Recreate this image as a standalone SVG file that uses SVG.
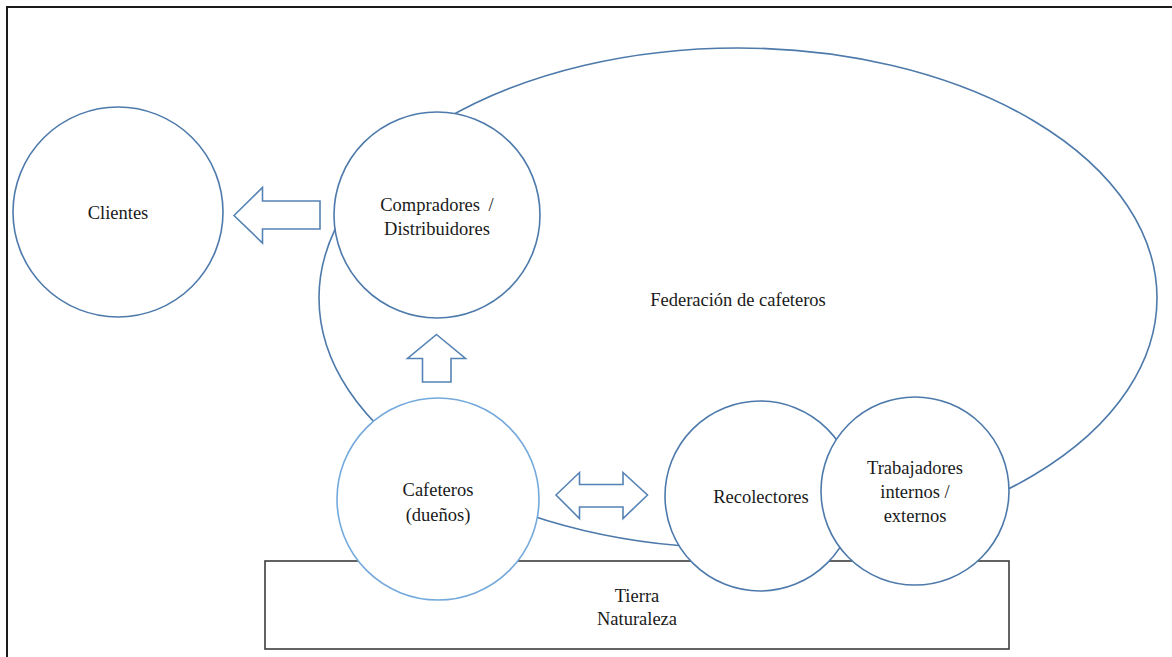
<svg xmlns="http://www.w3.org/2000/svg" width="1172" height="657" viewBox="0 0 1172 657">
  <style>
    .shape { fill: #ffffff; stroke: #4d7aab; stroke-width: 1.6; }
    .light { stroke: #74a9dc; }
    .arrow { fill: #ffffff; stroke: #5683b5; stroke-width: 1.6; stroke-linejoin: miter; }
    .label { font-family: "Liberation Serif", "Times New Roman", serif; font-size: 18.5px; fill: #1a1a1a; text-anchor: middle; }
  </style>

  <rect x="0" y="0" width="1172" height="657" fill="#ffffff"/>
  <!-- page frame (open on the right and bottom) -->
  <path d="M7 657 V7 H1172" fill="none" stroke="#1a1a1a" stroke-width="2"/>

  <!-- federation ellipse, behind everything -->
  <g id="federacion">
    <ellipse class="shape" cx="738" cy="298" rx="419" ry="250"/>
    <text class="label" x="738" y="306">Federación de cafeteros</text>
  </g>

  <!-- ground -->
  <g id="tierra">
    <rect x="265" y="561" width="744" height="88" fill="#ffffff" stroke="#3c3c3c" stroke-width="1.6"/>
    <text class="label" x="637" y="602">Tierra</text>
    <text class="label" x="637" y="625">Naturaleza</text>
  </g>

  <g id="clientes">
    <circle class="shape" cx="118" cy="212" r="105"/>
    <text class="label" x="118" y="219">Clientes</text>
  </g>

  <g id="compradores">
    <circle class="shape" cx="437" cy="215" r="103"/>
    <text class="label" x="437" y="211" style="word-spacing:4px">Compradores /</text>
    <text class="label" x="437" y="235">Distribuidores</text>
  </g>

  <g id="cafeteros">
    <circle class="shape light" cx="438" cy="499" r="101"/>
    <text class="label" x="438" y="496">Cafeteros</text>
    <text class="label" x="438" y="521">(dueños)</text>
  </g>

  <g id="recolectores">
    <circle class="shape" cx="760" cy="496" r="95"/>
    <text class="label" x="761" y="503">Recolectores</text>
  </g>

  <g id="trabajadores">
    <circle class="shape" cx="915" cy="491" r="94"/>
    <text class="label" x="915" y="474">Trabajadores</text>
    <text class="label" x="915" y="498">internos /</text>
    <text class="label" x="915" y="522">externos</text>
  </g>

  <!-- block arrows -->
  <g id="connectors">
    <polygon class="arrow" points="234,215.5 262.5,187.5 262.5,201 320,201 320,229 262.5,229 262.5,243"/>
    <polygon class="arrow" points="436.5,334.5 465.5,358.5 451,358.5 451,382 422.5,382 422.5,358.5 407.5,358.5"/>
    <polygon class="arrow" points="556,495 579.5,472.5 579.5,484.5 623,484.5 623,472.5 647.5,495 623,518.5 623,507 579.5,507 579.5,518.5"/>
  </g>
</svg>
